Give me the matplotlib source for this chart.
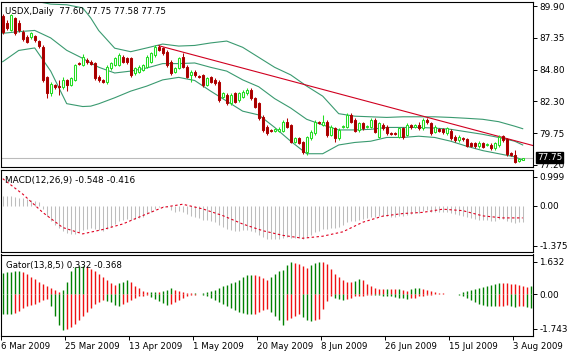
import numpy as np
import matplotlib
matplotlib.use("Agg")
import matplotlib.pyplot as plt

# ---- price data (daily bars, 6 Mar 2009 .. 3 Aug 2009) ----
opens = [
    89.10, 88.57, 87.98, 88.91, 88.52, 87.85, 87.45, 87.40, 87.50, 87.10,
    86.65, 84.20, 82.92, 83.60, 83.50, 83.45, 84.00, 83.60, 84.00, 85.38,
    85.20, 85.62, 85.45, 85.32, 84.26, 84.00, 83.86, 84.92, 85.19, 85.19,
    85.85, 85.72, 85.72, 84.52, 84.66, 84.79, 85.05, 85.45, 85.99, 86.65,
    86.52, 86.25, 85.45, 84.66, 84.92, 85.85, 85.05, 84.39, 84.66, 84.30,
    84.39, 83.59, 84.20, 83.99, 83.86, 82.66, 82.79, 82.13, 82.92, 82.39,
    82.66, 82.92, 83.19, 82.53, 82.13, 81.06, 80.26, 80.00, 79.92, 79.90,
    79.92, 80.66, 80.40, 79.06, 79.33, 79.06, 78.26, 79.33, 79.73, 80.66,
    80.40, 80.66, 79.60, 80.13, 79.33, 80.20, 80.26, 81.19, 80.79, 79.99,
    80.53, 80.20, 80.26, 80.79, 79.46, 80.40, 80.26, 79.78, 79.78, 79.46,
    80.13, 79.60, 80.40, 80.26, 80.40, 80.13, 80.79, 80.56, 79.86, 80.08,
    80.08, 79.73, 79.92, 79.46, 79.20, 79.38, 79.25, 78.93, 78.93, 78.70,
    78.93, 78.80, 78.80, 78.53, 78.80, 79.52, 79.25, 78.18, 78.00, 77.55,
    77.60]
closes = [
    87.85, 88.12, 89.18, 87.72, 87.98, 87.24, 87.05, 87.72, 87.15, 86.70,
    83.99, 82.92, 83.65, 83.45, 83.40, 84.00, 83.60, 84.12, 85.19, 85.30,
    85.85, 85.45, 85.30, 84.12, 83.99, 83.86, 85.05, 85.32, 85.72, 85.99,
    85.45, 85.45, 84.39, 84.92, 85.05, 85.19, 85.85, 86.12, 86.65, 86.39,
    86.12, 85.19, 84.52, 84.92, 85.72, 85.05, 84.26, 84.66, 84.39, 84.26,
    83.59, 84.12, 83.86, 83.72, 82.39, 82.92, 82.13, 82.79, 82.26, 82.92,
    83.06, 83.19, 82.53, 81.86, 80.92, 80.00, 79.73, 79.90, 80.05, 80.05,
    80.66, 80.26, 79.06, 79.33, 78.93, 78.26, 79.46, 79.86, 80.66, 80.53,
    80.66, 79.60, 80.26, 79.33, 80.00, 80.30, 81.19, 80.66, 79.92, 80.53,
    80.13, 80.30, 80.79, 79.86, 80.53, 80.13, 79.73, 79.70, 79.70, 80.13,
    79.41, 80.40, 80.20, 80.40, 80.13, 80.79, 80.60, 79.73, 80.26, 79.94,
    79.81, 80.13, 79.33, 79.20, 79.46, 79.25, 78.75, 78.75, 78.70, 78.99,
    78.66, 78.85, 78.53, 78.93, 79.46, 79.20, 78.08, 78.02, 77.47, 77.65,
    77.75]
highs = [
    89.25, 88.75, 89.30, 89.05, 88.80, 87.95, 87.55, 87.85, 87.60, 87.20,
    86.80, 84.30, 83.80, 83.70, 84.00, 84.20, 84.10, 84.25, 85.30, 85.45,
    86.05, 85.75, 85.55, 85.40, 84.35, 84.10, 85.15, 85.45, 85.85, 86.15,
    85.95, 85.85, 85.85, 85.05, 85.15, 85.30, 85.95, 86.20, 86.80, 86.78,
    86.65, 86.35, 85.55, 85.00, 85.85, 86.12, 85.15, 84.80, 84.80, 84.40,
    84.50, 84.25, 84.30, 84.15, 84.00, 83.00, 82.92, 82.92, 83.05, 83.05,
    83.19, 83.32, 83.32, 82.66, 82.26, 81.19, 80.40, 80.10, 80.15, 80.20,
    80.80, 80.92, 80.50, 79.45, 79.45, 79.15, 79.55, 80.00, 80.80, 80.75,
    81.19, 80.80, 80.40, 80.26, 80.13, 80.40, 81.33, 81.33, 80.92, 80.66,
    80.66, 80.40, 80.92, 80.92, 80.66, 80.53, 80.40, 79.85, 79.85, 80.26,
    80.26, 80.53, 80.50, 80.50, 80.66, 80.92, 80.92, 80.66, 80.40, 80.15,
    80.15, 80.26, 80.05, 79.60, 79.60, 79.46, 79.33, 79.00, 79.06, 79.10,
    79.06, 78.93, 78.93, 79.06, 79.60, 79.60, 79.33, 78.26, 78.40, 77.75,
    77.75]
lows = [
    87.70, 88.00, 87.90, 87.58, 87.85, 87.10, 86.95, 87.30, 87.05, 86.55,
    83.80, 82.53, 82.70, 83.30, 82.80, 83.30, 83.10, 83.50, 83.90, 85.20,
    85.10, 85.30, 85.15, 84.00, 83.85, 83.72, 83.70, 84.80, 85.10, 85.10,
    85.35, 85.30, 84.25, 84.40, 84.55, 84.70, 84.95, 85.35, 85.85, 86.30,
    86.00, 85.05, 84.35, 84.55, 84.85, 84.95, 84.12, 83.86, 84.26, 84.15,
    83.46, 83.50, 83.75, 83.60, 82.20, 82.55, 82.00, 82.00, 82.13, 82.26,
    82.53, 82.80, 82.39, 81.73, 80.79, 79.86, 79.60, 79.80, 79.80, 79.80,
    79.85, 80.15, 78.95, 78.95, 78.85, 78.10, 78.00, 79.20, 79.60, 80.45,
    80.30, 79.46, 79.50, 79.06, 79.20, 80.15, 80.13, 80.53, 79.80, 79.86,
    80.00, 80.15, 80.13, 79.73, 79.33, 80.00, 79.60, 79.60, 79.60, 79.33,
    79.30, 79.50, 80.10, 80.15, 80.00, 80.00, 80.50, 79.60, 79.73, 79.85,
    79.70, 79.60, 79.20, 79.06, 79.06, 79.15, 78.60, 78.65, 78.55, 78.55,
    78.53, 78.75, 78.40, 78.40, 78.66, 79.06, 77.95, 77.90, 77.33, 77.45,
    77.58]

# Bollinger bands (20,2) every 4th bar
band_bars = [0, 4, 8, 12, 16, 20, 22, 24, 28, 32, 36, 40, 44, 48, 52, 56, 60, 64,
             68, 72, 76, 80, 84, 88, 92, 96, 100, 104, 108, 112, 116, 120, 124, 128, 130]
band_up = [90.6, 90.5, 90.3, 90.05, 90.0, 89.75, 88.95, 87.94, 86.53, 86.25, 86.55, 86.86,
           86.7, 86.75, 86.95, 87.1, 86.6, 85.8, 85.0, 84.4, 83.5, 82.7, 81.3, 81.1,
           81.05, 81.0, 81.05, 81.05, 81.05, 81.0, 80.93, 80.85, 80.66, 80.3, 80.1]
band_mid = [87.72, 87.85, 87.95, 87.35, 86.36, 85.72, 85.35, 85.01, 84.55, 84.7, 84.95, 85.3,
            85.3, 85.35, 85.0, 84.7, 84.0, 83.45, 82.5, 81.75, 80.85, 80.4, 80.0, 80.0,
            80.05, 80.2, 80.2, 80.2, 80.15, 80.05, 79.85, 79.65, 79.4, 79.1, 78.8]
band_low = [85.45, 86.35, 86.55, 84.7, 82.1, 81.87, 81.9, 82.09, 82.57, 83.1, 83.5, 84.0,
            84.2, 83.95, 83.1, 82.3, 81.5, 81.2, 80.2, 79.1, 78.1, 78.1, 78.8, 79.0,
            79.1, 79.4, 79.4, 79.5, 79.4, 79.1, 78.7, 78.35, 78.1, 77.85, 77.6]

# hand drawn trend line (two anchors)
trend_bars = [39, 125]
trend_prices = [86.73, 79.40]

# MACD(12,26,9): main line as histogram, signal sampled every 5 bars
macd_hist = [
    0.35, 0.33, 0.32, 0.30, 0.28, 0.25, 0.22, 0.20, 0.17, 0.12,
    -0.10, -0.35, -0.52, -0.66, -0.78, -0.86, -0.94, -0.98, -0.96, -0.92,
    -0.85, -0.80, -0.77, -0.80, -0.84, -0.86, -0.80, -0.72, -0.62, -0.52,
    -0.48, -0.45, -0.48, -0.46, -0.43, -0.38, -0.30, -0.22, -0.12, -0.06,
    -0.03, -0.06, -0.15, -0.20, -0.18, -0.22, -0.30, -0.34, -0.38, -0.42,
    -0.48, -0.50, -0.54, -0.57, -0.67, -0.72, -0.80, -0.82, -0.86, -0.86,
    -0.85, -0.84, -0.86, -0.92, -1.00, -1.08, -1.14, -1.16, -1.16, -1.15,
    -1.10, -1.08, -1.12, -1.12, -1.12, -1.14, -1.08, -1.02, -0.92, -0.86,
    -0.80, -0.80, -0.76, -0.76, -0.72, -0.66, -0.56, -0.52, -0.52, -0.48,
    -0.46, -0.42, -0.38, -0.40, -0.36, -0.36, -0.37, -0.38, -0.38, -0.34,
    -0.36, -0.31, -0.28, -0.25, -0.24, -0.18, -0.16, -0.20, -0.20, -0.21,
    -0.22, -0.20, -0.25, -0.30, -0.32, -0.34, -0.40, -0.44, -0.47, -0.48,
    -0.50, -0.50, -0.52, -0.51, -0.46, -0.45, -0.52, -0.55, -0.60, -0.57,
    -0.55]
signal_bars = list(range(0, 131, 5))
signal_vals = [0.93, 0.40, -0.23, -0.75, -0.97, -0.82, -0.63, -0.34, -0.06, 0.05,
               -0.11, -0.34, -0.63, -0.86, -1.02, -1.12, -1.05, -0.90, -0.57, -0.36,
               -0.27, -0.23, -0.12, -0.17, -0.35, -0.42, -0.42]

# Gator(13,8,5): upper / lower histograms (extends 2 bars past last candle)
gator_up = [
    1.05, 1.10, 1.13, 1.16, 1.18, 1.12, 1.00, 0.87, 0.73, 0.60,
    0.48, 0.38, 0.28, 0.18, 0.10, 0.20, 0.60, 1.15, 1.35, 1.40,
    1.42, 1.36, 1.28, 1.15, 1.00, 0.85, 0.70, 0.55, 0.45, 0.55,
    0.62, 0.68, 0.58, 0.42, 0.28, 0.15, 0.08, 0.10, 0.12, 0.08,
    0.14, 0.20, 0.28, 0.22, 0.15, 0.10, 0.06, 0.03, 0.04, 0.02,
    0.05, 0.10, 0.16, 0.22, 0.30, 0.38, 0.46, 0.54, 0.62, 0.72,
    0.84, 0.93, 0.98, 0.95, 0.88, 0.80, 0.72, 0.85, 1.00, 1.15,
    1.20, 1.46, 1.63, 1.58, 1.50, 1.40, 1.32, 1.46, 1.55, 1.63,
    1.60, 1.52, 1.25, 1.00, 0.85, 0.70, 0.60, 0.58, 0.66, 0.74,
    0.68, 0.50, 0.40, 0.28, 0.26, 0.25, 0.27, 0.25, 0.24, 0.26,
    0.22, 0.17, 0.25, 0.29, 0.30, 0.25, 0.20, 0.14, 0.08, 0.05,
    0.03, 0.01, 0.01, 0.01, 0.02, 0.08, 0.13, 0.18, 0.24, 0.30,
    0.36, 0.42, 0.47, 0.52, 0.55, 0.54, 0.53, 0.52, 0.50, 0.45,
    0.40, 0.36, 0.42]
gator_down = [
    -0.98, -1.00, -1.02, -0.95, -0.85, -0.72, -0.62, -0.55, -0.48, -0.40,
    -0.32, -0.25, -0.60, -1.10, -1.55, -1.80, -1.75, -1.65, -1.50, -1.30,
    -1.10, -0.90, -0.70, -0.50, -0.40, -0.30, -0.35, -0.42, -0.55, -0.60,
    -0.50, -0.40, -0.30, -0.20, -0.12, -0.08, -0.05, -0.15, -0.25, -0.35,
    -0.45, -0.55, -0.50, -0.40, -0.30, -0.20, -0.12, -0.06, -0.03, -0.02,
    -0.05, -0.10, -0.20, -0.30, -0.40, -0.50, -0.60, -0.70, -0.80, -0.90,
    -0.95, -1.00, -1.02, -0.98, -0.90, -0.82, -0.75, -0.90, -1.10, -1.30,
    -1.55, -1.30, -1.20, -1.10, -1.00, -1.15, -1.30, -1.35, -1.33, -1.25,
    -0.75, -0.35, -0.10, -0.18, -0.25, -0.30, -0.25, -0.18, -0.12, -0.10,
    -0.08, -0.06, -0.05, -0.06, -0.07, -0.08, -0.10, -0.12, -0.15, -0.20,
    -0.22, -0.25, -0.22, -0.18, -0.12, -0.08, -0.05, -0.03, -0.02, -0.01,
    -0.01, 0.00, 0.00, -0.01, -0.03, -0.10, -0.20, -0.30, -0.40, -0.48,
    -0.55, -0.60, -0.62, -0.62, -0.60, -0.58, -0.55, -0.60, -0.65, -0.62,
    -0.58, -0.65, -0.70]

date_bars = [0, 16, 32, 48, 64, 80, 96, 112, 128]
date_labels = ["6 Mar 2009", "25 Mar 2009", "13 Apr 2009", "1 May 2009", "20 May 2009",
               "8 Jun 2009", "26 Jun 2009", "15 Jul 2009", "3 Aug 2009"]

price_ticks = [89.90, 87.35, 84.80, 82.30, 79.75, 77.20]
macd_ticks = [0.999, 0.0, -1.375]
macd_tick_labels = ["0.999", "0.00", "-1.375"]
gator_ticks = [1.632, 0.0, -1.743]
gator_tick_labels = ["1.632", "0.00", "-1.743"]

# ---- figure ----
W, H = 569, 354
plt.rcParams['font.family'] = ['DejaVu Sans']
FS = 6.2
fig = plt.figure(figsize=(W / 100, H / 100), dpi=100)
fig.patch.set_facecolor('white')


def panel(top, bottom):
    ax = fig.add_axes([1 / W, 1 - bottom / H, 532 / W, (bottom - top) / H])
    for s in ax.spines.values():
        s.set_linewidth(0.8)
        s.set_color('black')
    ax.yaxis.tick_right()
    ax.tick_params(axis='y', direction='out', length=3, width=0.7, pad=1.5,
                   labelsize=6.4, colors='black')
    ax.set_xlim(-0.425, 132.575)
    return ax


ax = panel(1.5, 167)
ax_m = panel(170, 251.5)
ax_g = panel(254.5, 335.5)
for a in (ax, ax_m):
    a.set_xticks([])

# main price panel
x = np.arange(len(closes))
o = np.array(opens); c = np.array(closes)
bull = c >= o
edge = np.where(bull, '#22DD22', '#B00000')
ax.vlines(x, lows, highs, colors=edge, lw=0.75, zorder=3)
body_bot = np.minimum(o, c)
body_h = np.maximum(np.abs(c - o), 0.02)
ax.bar(x, body_h, bottom=body_bot, width=0.5,
       color=np.where(bull, 'white', '#A00000'), edgecolor=edge, linewidth=0.75, zorder=4)

for band in (band_up, band_mid, band_low):
    ax.plot(band_bars, band, color='#3A9A70', lw=0.8, zorder=2)

slope = (trend_prices[1] - trend_prices[0]) / (trend_bars[1] - trend_bars[0])
tx = [trend_bars[0], 132.575]
ty = [trend_prices[0], trend_prices[0] + slope * (tx[1] - trend_bars[0])]
ax.plot(tx, ty, color='#D00020', lw=0.8, zorder=2)

ax.axhline(closes[-1], color='#BBBBBB', lw=0.8, zorder=1)
ax.set_ylim(77.04, 90.26)
ax.set_yticks(price_ticks)
ax.set_yticklabels(["%.2f" % v for v in price_ticks])
ax.annotate("%.2f" % closes[-1], xy=(1, closes[-1]), xycoords=('axes fraction', 'data'),
            xytext=(3, 0.6), textcoords='offset points', va='center', ha='left',
            fontsize=6.4, color='white', zorder=10,
            bbox=dict(boxstyle='square,pad=0.12', fc='black', ec='black'),
            annotation_clip=False)
ax.text(4 / 532, 0.94, "USDX,Daily  %.2f %.2f %.2f %.2f" % (opens[-1], highs[-1], lows[-1], closes[-1]),
        transform=ax.transAxes, fontsize=FS, va='center', ha='left', zorder=11)

# MACD panel
ax_m.vlines(np.arange(len(macd_hist)), 0, macd_hist, colors='#BDBDBD', lw=0.75)
ax_m.plot(signal_bars, signal_vals, color='#E00020', lw=0.8, ls=(0, (2.2, 2.2)))
ax_m.set_ylim(-1.576, 1.228)
ax_m.set_yticks(macd_ticks)
ax_m.set_yticklabels(macd_tick_labels)
ax_m.text(4 / 532, 0.87, "MACD(12,26,9) -0.548 -0.416",
          transform=ax_m.transAxes, fontsize=6.4, va='center', ha='left')

# Gator panel
gu = np.array(gator_up); gd = np.array(gator_down)
up_col = ['#008000'] + ['#008000' if gu[i] >= gu[i - 1] else '#EE1111' for i in range(1, len(gu))]
dn_col = ['#008000'] + ['#008000' if abs(gd[i]) >= abs(gd[i - 1]) else '#EE1111' for i in range(1, len(gd))]
gx = np.arange(len(gu))
ax_g.vlines(gx, 0, gu, colors=up_col, lw=1.0)
ax_g.vlines(gx, gd, 0, colors=dn_col, lw=1.0)
ax_g.set_ylim(-2.085, 1.985)
ax_g.set_yticks(gator_ticks)
ax_g.set_yticklabels(gator_tick_labels)
ax_g.text(5 / 532, 0.86, "Gator(13,8,5) 0.332 -0.368",
          transform=ax_g.transAxes, fontsize=FS, va='center', ha='left')
# date ticks sit at the left edge of each label, just before the bar
ax_g.set_xticks([b - 0.4 for b in date_bars])
ax_g.set_xticklabels(date_labels, ha='left')
ax_g.tick_params(axis='x', direction='out', length=3, width=0.7, pad=2, labelsize=FS)

fig.savefig("out.png", dpi=100, facecolor='white')
